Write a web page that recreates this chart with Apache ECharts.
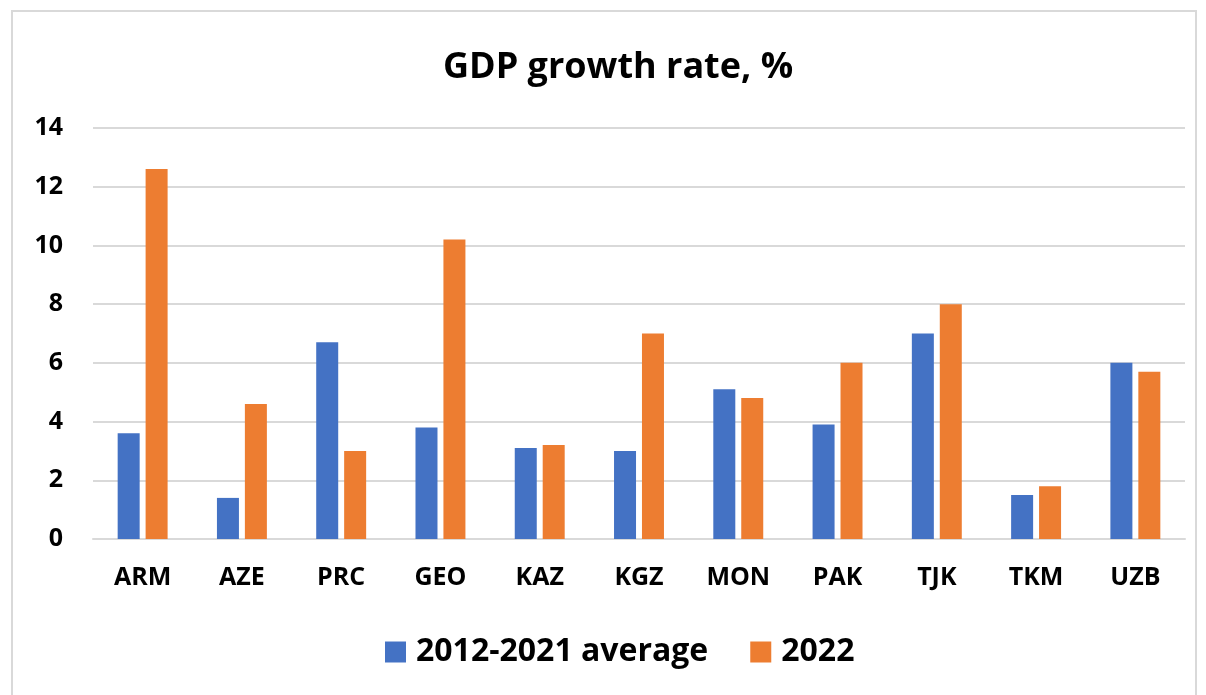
<!DOCTYPE html>
<html>
<head>
<meta charset="utf-8">
<script src="https://cdn.jsdelivr.net/npm/echarts@6/dist/echarts.min.js"></script>
<style>
	html, body { margin: 0; padding: 0; background: #fff; }
	#chart { width: 1206px; height: 695px; }
</style>
</head>
<body>
<div id="chart"></div>
<script>
// data
let countries = ['ARM', 'AZE', 'PRC', 'GEO', 'KAZ', 'KGZ', 'MON', 'PAK', 'TJK', 'TKM', 'UZB'];
let avg2012_2021 = [3.6, 1.4, 6.7, 3.8, 3.1, 3.0, 5.1, 3.9, 7.0, 1.5, 6.0];
let y2022 = [12.6, 4.6, 3.0, 10.2, 3.2, 7.0, 4.8, 6.0, 8.0, 1.8, 5.7];
let seriesNames = ['2012-2021 average', '2022'];

let font = '"Open Sans", Lato, sans-serif';

let myChart = echarts.init(document.getElementById('chart'));
let option = {
	backgroundColor: '#fff',
	textStyle: { fontFamily: font },
	graphic: [
		{
			type: 'rect',
			shape: { x: 12, y: 11, width: 1184, height: 700 },
			style: { fill: 'none', stroke: '#d9d9d9', lineWidth: 2 },
			silent: true
		}
	],
	title: {
		text: 'GDP growth rate, %',
		left: 613,
		textAlign: 'center',
		top: 45,
		textStyle: { fontFamily: font, fontSize: 36, fontWeight: 'bold', color: '#000' }
	},
	legend: {
		data: seriesNames,
		left: 380,
		top: 631,
		itemWidth: 21,
		itemHeight: 21,
		itemGap: 42,
		icon: 'rect',
		textStyle: { fontFamily: font, fontSize: 32, fontWeight: 'bold', color: '#000', padding: [0, 0, 0, 5] }
	},
	grid: {
		left: 93,
		right: 21,
		top: 128,
		bottom: 156
	},
	xAxis: {
		type: 'category',
		data: countries,
		axisLine: { show: true, lineStyle: { color: '#d9d9d9', width: 2 } },
		axisTick: { show: false },
		axisLabel: { fontFamily: font, fontSize: 25, fontWeight: 'bold', color: '#000', margin: 26 }
	},
	yAxis: {
		type: 'value',
		min: 0,
		max: 14,
		interval: 2,
		axisLine: { show: false },
		axisTick: { show: false },
		splitLine: { lineStyle: { color: '#d9d9d9', width: 2 } },
		axisLabel: { fontFamily: font, fontSize: 25, fontWeight: 'bold', color: '#000', margin: 30 }
	},
	series: [
		{
			name: seriesNames[0],
			type: 'bar',
			data: avg2012_2021,
			barWidth: 22,
			barGap: '27%',
			itemStyle: { color: '#4472c4' }
		},
		{
			name: seriesNames[1],
			type: 'bar',
			data: y2022,
			barWidth: 22,
			itemStyle: { color: '#ed7d31' }
		}
	]
};
myChart.setOption(option);
</script>
</body>
</html>
